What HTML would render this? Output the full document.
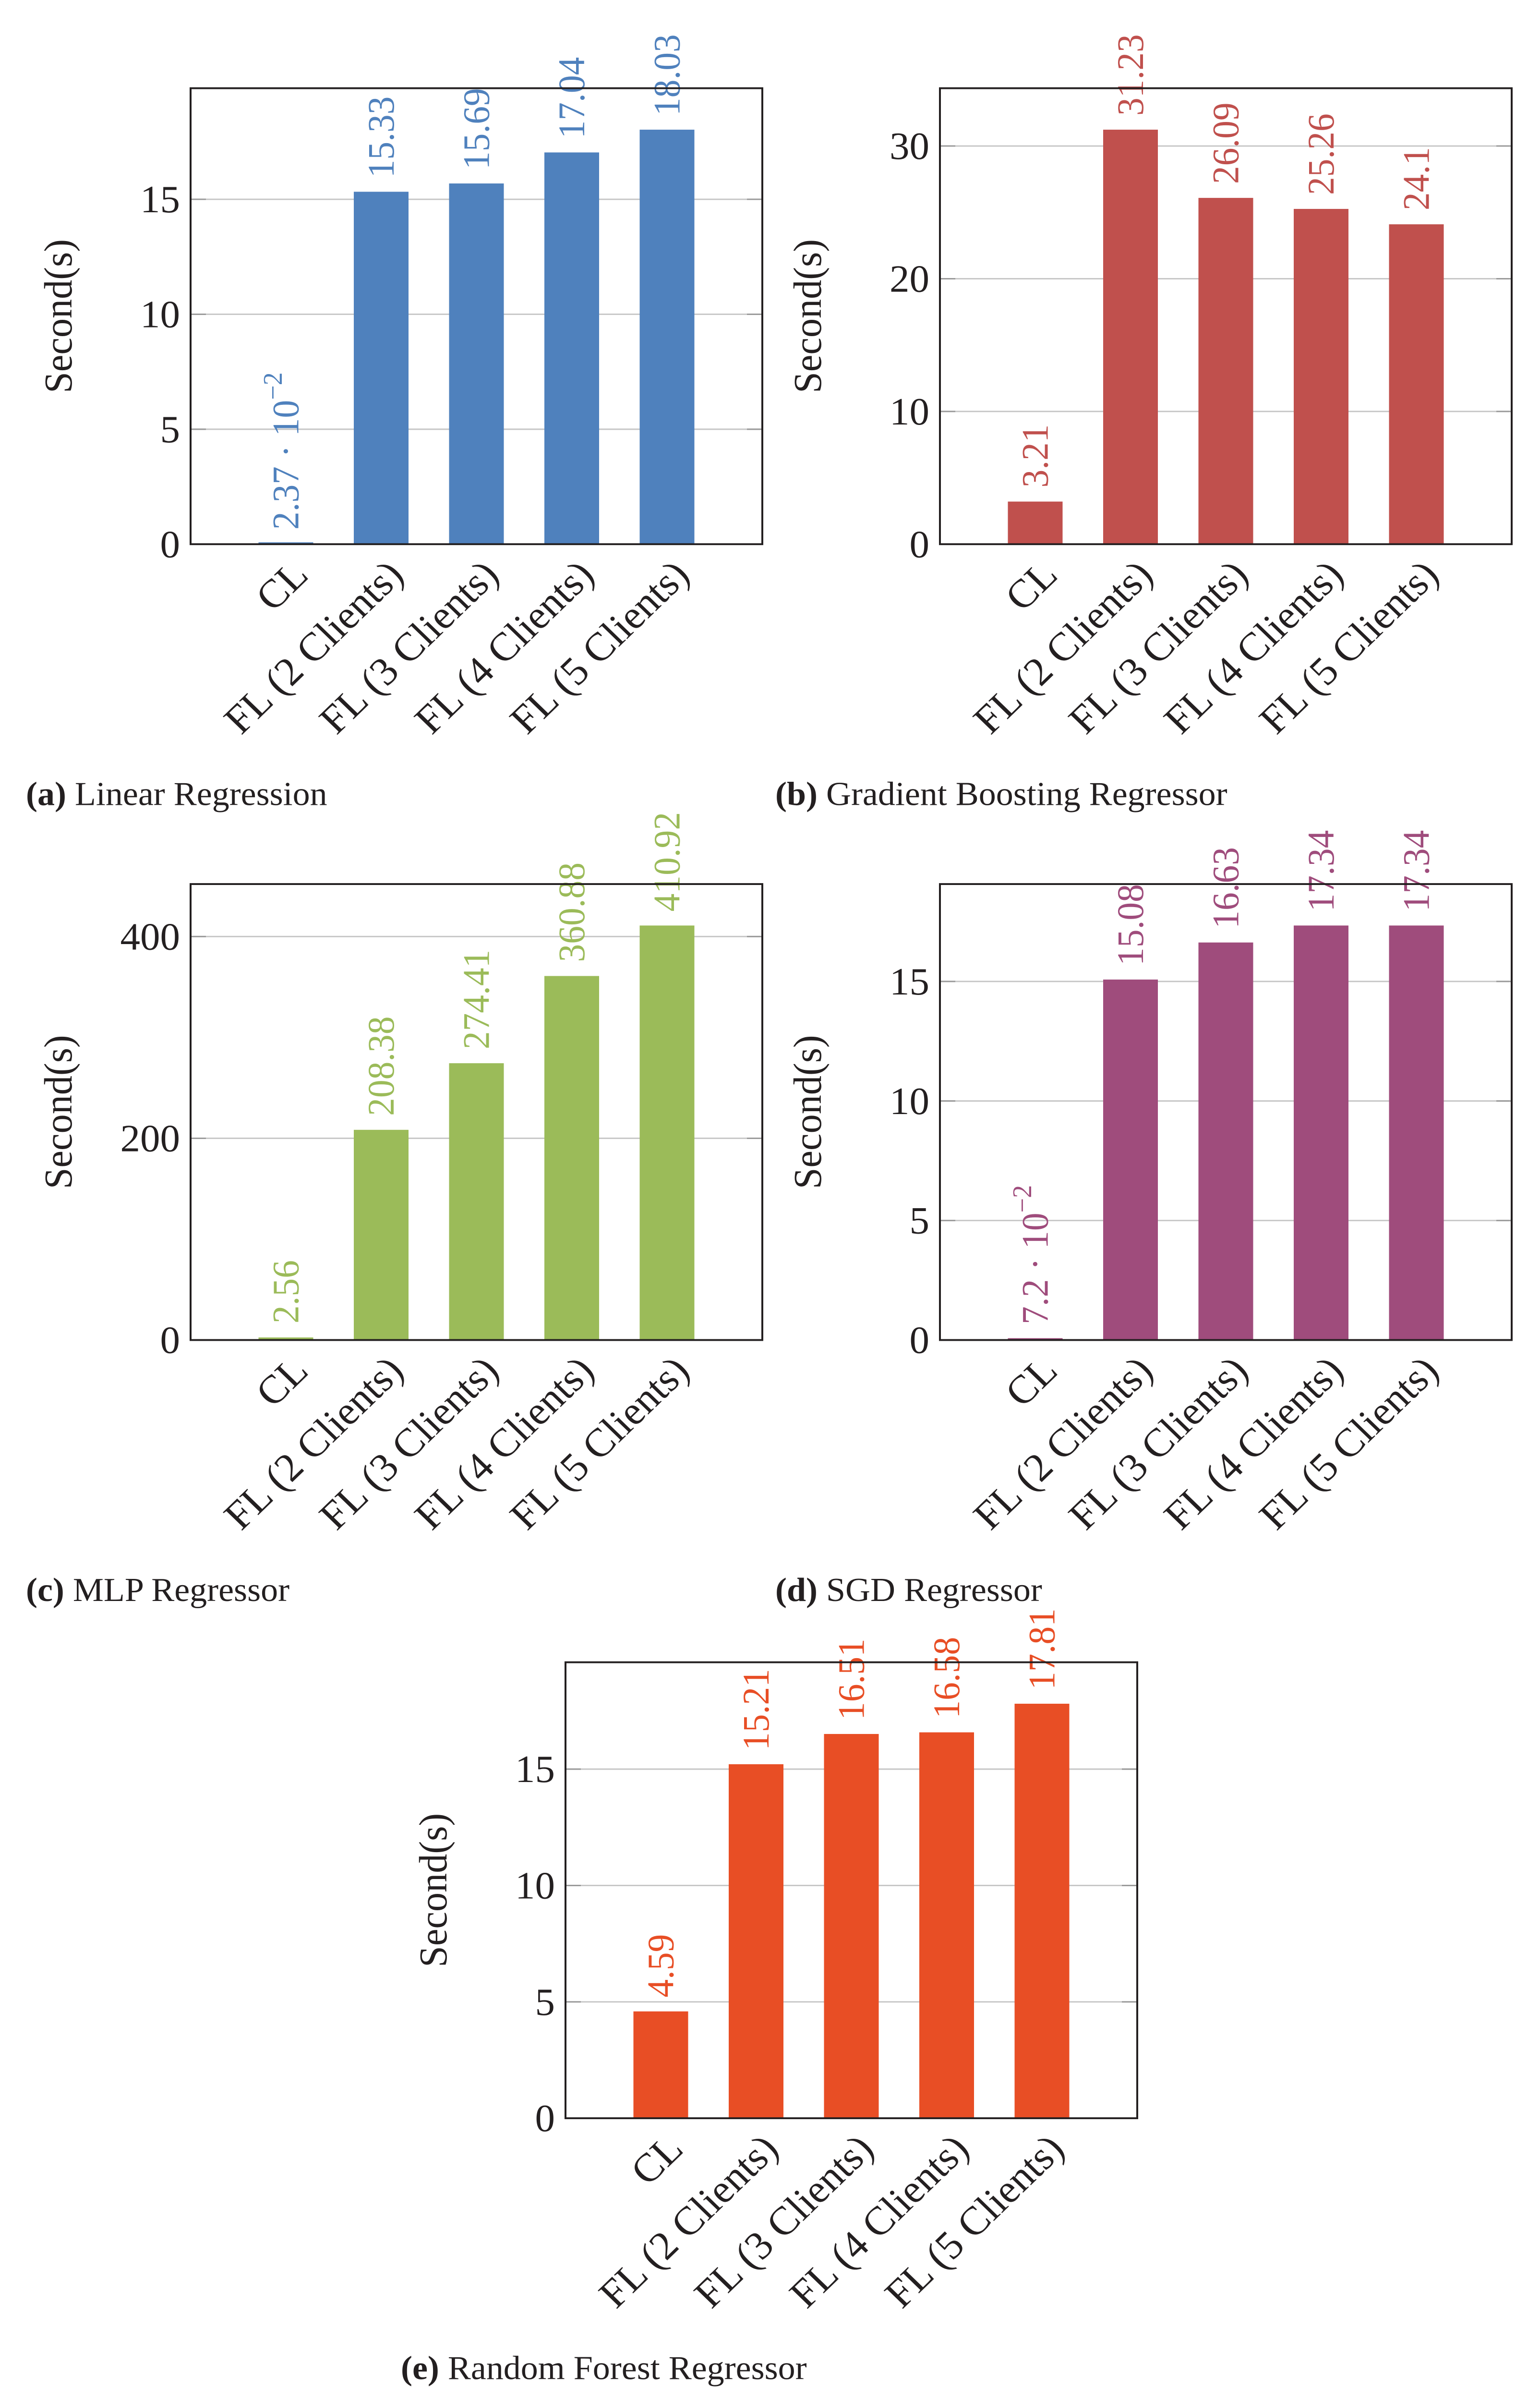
<!DOCTYPE html>
<html><head><meta charset="utf-8"><style>
html,body{margin:0;padding:0;background:#fff;overflow:hidden;}
svg{display:block;width:100vw;height:100vh;}
text{font-family:"Liberation Serif",serif;}
</style></head><body>
<svg id="fig" xmlns="http://www.w3.org/2000/svg" viewBox="0 0 3208 5171" preserveAspectRatio="none"></svg>
<script>
const categories = ["CL","FL (2 Clients)","FL (3 Clients)","FL (4 Clients)","FL (5 Clients)"];
const linearValues = [0.0237, 15.33, 15.69, 17.04, 18.03];
const gbrValues = [3.21, 31.23, 26.09, 25.26, 24.1];
const mlpValues = [2.56, 208.38, 274.41, 360.88, 410.92];
const sgdValues = [0.072, 15.08, 16.63, 17.34, 17.34];
const rfValues = [4.59, 15.21, 16.51, 16.58, 17.81];
const linearLabels = ["2.37 · 10|−2","15.33","15.69","17.04","18.03"];
const gbrLabels = ["3.21","31.23","26.09","25.26","24.1"];
const mlpLabels = ["2.56","208.38","274.41","360.88","410.92"];
const sgdLabels = ["7.2 · 10|−2","15.08","16.63","17.34","17.34"];
const rfLabels = ["4.59","15.21","16.51","16.58","17.81"];
const linearTicks = [0,5,10,15];
const gbrTicks = [0,10,20,30];
const mlpTicks = [0,200,400];
const sgdTicks = [0,5,10,15];
const rfTicks = [0,5,10,15];

const NS = "http://www.w3.org/2000/svg";
const svg = document.getElementById('fig');
function mk(tag, attrs, parent){
  const e = document.createElementNS(NS, tag);
  for (const k in attrs) e.setAttribute(k, attrs[k]);
  (parent||svg).appendChild(e);
  return e;
}
const W = 1191, H = 982;
function panel(id, x0, y0, values, labels, ticks, color, capLetter, capText){
  const g = mk('g', {});
  
  
  const ymax = Math.max(...values) * 1.1;
  const yS = v => y0 + H - v / ymax * H;
  const step = W / 6;
  const xS = i => x0 + (i + 1) * step;
  const bw = 114;
  ticks.forEach(t => {
    const y = yS(t);
    if (t !== 0) {
      const gl = mk('line', {x1:x0, x2:x0+W, y1:y, y2:y, stroke:'#c6c6c6', 'stroke-width':3}, g);
      
      
      mk('line', {x1:x0, x2:x0+32, y1:y, y2:y, stroke:'#999', 'stroke-width':3}, g);
      mk('line', {x1:x0+W-32, x2:x0+W, y1:y, y2:y, stroke:'#999', 'stroke-width':3}, g);
    }
    const tl = mk('text', {x:x0-22, y:y, 'text-anchor':'end', 'dominant-baseline':'central', 'font-size':83, fill:'#231f20'}, g);
    tl.textContent = t;
    
    
  });
  values.forEach((v, i) => {
    const cx = xS(i);
    const top = yS(v);
    const r = mk('rect', {x:cx-bw/2, y:top, width:bw, height:Math.max(y0+H-top, 0), fill:color}, g);
    if (y0+H-top < 4) { r.setAttribute('y', y0+H-4); r.setAttribute('height', 4); }
    
    
    const lx = cx, ly = top - 30;
    const t = mk('text', {x:0, y:0, transform:`translate(${lx},${ly}) rotate(-90)`, 'text-anchor':'start', 'dominant-baseline':'central', 'font-size':78, fill:color}, g);
    const parts = labels[i].split('|');
    t.textContent = parts[0];
    if (parts[1]) {
      const sp = mk('tspan', {dy:-28, 'font-size':56}, t);
      sp.textContent = parts[1];
    }
    
    
    const xl = mk('text', {x:0, y:0, transform:`translate(${cx+8},${y0+H+28}) rotate(-45)`, 'text-anchor':'end', 'dominant-baseline':'hanging', 'font-size':86, fill:'#231f20'}, g);
    xl.textContent = categories[i];
    
    
  });
  const box = mk('rect', {x:x0, y:y0, width:W, height:H, fill:'none', stroke:'#231f20', 'stroke-width':4}, g);
  
  
  const yt = mk('text', {x:0, y:0, transform:`translate(${x0-276},${y0+H/2}) rotate(-90)`, 'text-anchor':'middle', 'dominant-baseline':'central', 'font-size':83, fill:'#231f20'}, g);
  yt.textContent = 'Second(s)';
  
  
  const cap = mk('text', {x:x0-343, y:y0+H+562, 'font-size':72, fill:'#231f20'}, g);
  const b = mk('tspan', {'font-weight':'bold'}, cap);
  b.textContent = '(' + capLetter + ')';
  const rest = mk('tspan', {}, cap);
  rest.textContent = ' ' + capText;
  
  
}
panel('linear-regression', 397, 190, linearValues, linearLabels, linearTicks, '#4f81bd', 'a', 'Linear Regression');
panel('gradient-boosting', 1958, 190, gbrValues, gbrLabels, gbrTicks, '#c0504d', 'b', 'Gradient Boosting Regressor');
panel('mlp', 397, 1904, mlpValues, mlpLabels, mlpTicks, '#9bbb59', 'c', 'MLP Regressor');
panel('sgd', 1958, 1904, sgdValues, sgdLabels, sgdTicks, '#9f4c7c', 'd', 'SGD Regressor');
panel('random-forest', 1178, 3580, rfValues, rfLabels, rfTicks, '#e84e25', 'e', 'Random Forest Regressor');
</script>
</body></html>
